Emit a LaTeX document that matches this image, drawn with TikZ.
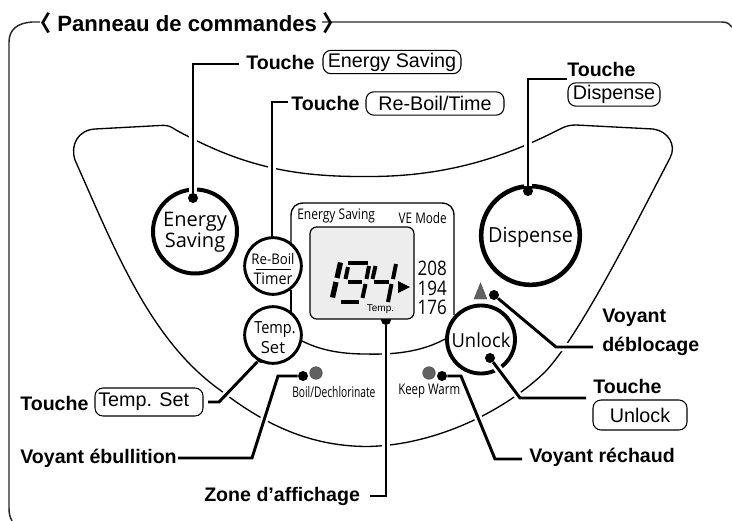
\documentclass[tikz,border=0pt]{standalone}
\usepackage{fontspec}
\setmainfont{Liberation Sans}
\newfontfamily\panelfont{Open Sans}
\newfontfamily\cjkfont{Noto Sans CJK JP}
\newcommand{\nar}[2]{\scalebox{#1}[1]{#2}}
\tikzset{
  lbl/.style={font=\fontsize{14.7pt}{17pt}\selectfont\bfseries,inner sep=0pt,anchor=west},
  keybox/.style={draw=black,line width=0.8pt,rounded corners=6pt,inner sep=0pt,font=\fontsize{14.8pt}{17pt}\selectfont},
  outline/.style={line width=1pt,line join=round},
  leader/.style={line width=2.2pt,line join=miter},
  halo/.style={line width=6pt,white},
  dot/.style={circle,fill=black,inner sep=0pt,minimum size=7.5pt},
  lamp/.style={circle,fill=black!62,draw=black!75,line width=.3pt,inner sep=0pt,minimum size=9.5pt},
  ring/.style={circle,draw=black,fill=none,inner sep=0pt},
  paneltext/.style={font=\panelfont,inner sep=0pt,align=center},
  seg/.style={line width=3.9pt},
  segthin/.style={line width=3pt}
}
\begin{document}
\begin{tikzpicture}[x=0.75pt,y=-0.75pt]
\useasboundingbox (0,0) rectangle (732,521);
% frame
\draw[line width=1.1pt,black!85] (40,22) -- (32,22) .. controls (17,23) and (9,30) .. (9,42) -- (9,508) .. controls (9,514) and (10,517) .. (12,521);
\draw[line width=1.1pt,black!85] (322,22) -- (722,22) .. controls (727,22) and (730,24) .. (732,27);
% panel outline
\draw[outline] (576,125) .. controls (570,125) and (566,126) .. (560,129)
  .. controls (500,160) and (440,177) .. (366,176.5)
  .. controls (290,177) and (240,165) .. (176,130)
  .. controls (170,126) and (168,125) .. (160,125.5) -- (95,129)
  .. controls (78,130) and (70,145) .. (75,160)
  .. controls (115,250) and (150,340) .. (220,390)
  .. controls (265,425) and (310,446) .. (366,446.5)
  .. controls (430,446) and (500,415) .. (545,372)
  .. controls (580,335) and (635,225) .. (670,158)
  .. controls (677,145) and (668,131) .. (653,129) -- (576,125);
% display outer box and inner arc
\draw[outline] (291,262) -- (291,216) .. controls (291,207) and (296,203) .. (304,203) -- (441,203) .. controls (450,203) and (454,208) .. (454,216) -- (454,315);
\draw[outline] (291,290) -- (291,312);
\draw[outline] (302,341) .. controls (320,350) and (340,354) .. (366,354) .. controls (400,355) and (425,350) .. (445,339);
% connector ends
\node[dot] (dEnergy) at (193,198) {};
\node[dot] (dReboil) at (272,244) {};
\node[dot] (dDispense) at (528,191) {};
\node[dot] (dTemp) at (261,358) {};
\node[dot] (dBoil) at (303,376) {};
\node[dot] (dZone) at (386,320) {};
\node[dot] (dUnlock) at (490,358) {};
\node[dot] (dUnlockLamp) at (494,295) {};
\node[dot] (dWarm) at (442,376) {};
\coordinate (bEnergy) at (193,64); \coordinate (eEnergy) at (239,64);
\coordinate (bReboil) at (272,102); \coordinate (eReboil) at (288,102);
\coordinate (bDispense) at (528,79); \coordinate (eDispense) at (567,79);
\coordinate (bTemp) at (219,402); \coordinate (eTemp) at (208,402);
\coordinate (bBoil) at (278,376); \coordinate (cBoil) at (252,458); \coordinate (eBoil) at (178,458);
\coordinate (bZone) at (386,496); \coordinate (eZone) at (370,496);
\coordinate (bUnlock) at (520,398); \coordinate (eUnlock) at (586,398);
\coordinate (bLamp) at (556,347); \coordinate (eLamp) at (593,347);
\coordinate (bWarm) at (461,376); \coordinate (cWarm) at (495,459); \coordinate (eWarm) at (522,459);
% rings (under halos)
\node[ring,line width=3pt,minimum size=63pt] (energy) at (195,231.5) {};
\node[ring,line width=3.4pt,minimum size=74pt] (dispense) at (530.5,235.5) {};
\node[ring,line width=2.9pt,minimum size=51pt] (unlockbtn) at (481,339.5) {};
% halos
\draw[halo] (dEnergy) -- (bEnergy);
\draw[halo] (dDispense) -- (bDispense);
\draw[halo] (dReboil) -- (bReboil);
\draw[halo] (dTemp) -- (bTemp);
\draw[halo] (bBoil) -- (cBoil);
\draw[halo] (dZone) -- (bZone);
\draw[halo] (dUnlock) -- (bUnlock);
\draw[halo] (dUnlockLamp) -- (bLamp) -- (eLamp);
\draw[halo] (bWarm) -- (cWarm);
% small rings
\node[ring,line width=2.2pt,minimum size=42.5pt,fill=white] (reboil) at (273,266) {};
\node[ring,line width=2.2pt,minimum size=42.5pt,fill=white] (tempbtn) at (273,335) {};
% LCD
\draw[line width=.9pt,fill=black!7,rounded corners=5pt] (310,227) rectangle (414,319);
\draw[seg] (340.5,262.5) -- (337,278);
\draw[seg] (336,282) -- (332.5,297.5);
\draw[segthin] (348,263) -- (368,263);
\draw[segthin] (348,267) -- (345.5,279);
\draw[segthin] (348,281.5) -- (362,281.5);
\draw[segthin] (369,266) -- (366.5,279);
\draw[segthin] (365.5,284) -- (362.5,298);
\draw[segthin] (341,301.5) -- (359,301.5);
\draw[segthin] (375.5,266) -- (372.5,279);
\draw[segthin] (374,281.5) -- (389,281.5);
\draw[segthin] (396,264) -- (393,279);
\draw[segthin] (391.5,284) -- (388,302);
\fill (398,281) -- (410,287) -- (398,293) -- cycle;
% leaders
\draw[leader] (dEnergy) -- (bEnergy) -- (eEnergy);
\draw[leader] (dReboil) -- (bReboil) -- (eReboil);
\draw[leader] (dDispense) -- (bDispense) -- (eDispense);
\draw[leader] (dTemp) -- (bTemp) -- (eTemp);
\draw[leader] (dBoil) -- (bBoil) -- (cBoil) -- (eBoil);
\draw[leader] (dZone) -- (bZone) -- (eZone);
\draw[leader] (dUnlock) -- (bUnlock) -- (eUnlock);
\draw[leader] (dUnlockLamp) -- (bLamp) -- (eLamp);
\draw[leader] (dWarm) -- (bWarm) -- (cWarm) -- (eWarm);
% lamps
\node[lamp] (lampBoil) at (316,373) {};
\node[lamp] (lampWarm) at (429,373) {};
\fill[black!62,draw=black!70,line width=.3pt] (474,299) -- (487,299) -- (480.5,283) -- cycle;
% panel texts
\node[paneltext,font=\panelfont\fontsize{15pt}{14.5pt}\selectfont] (tEnergy) at (195,232) {Energy\\Saving};
\node[paneltext,font=\panelfont\fontsize{15.6pt}{17pt}\selectfont] (tDispense) at (530.5,237) {\nar{.95}{Dispense}};
\node[paneltext,font=\panelfont\fontsize{11pt}{13pt}\selectfont] (tRe) at (273,259) {\nar{.9}{Re-Boil}};
\node[paneltext,font=\panelfont\fontsize{12pt}{13pt}\selectfont] (tTimer) at (273,279) {\nar{.9}{Timer}};
\draw[line width=.9pt] (256,269.5) -- (291,269.5);
\node[paneltext,font=\panelfont\fontsize{12.5pt}{13pt}\selectfont] (tTemp) at (275,330) {\nar{.87}{Temp.}};
\node[paneltext,font=\panelfont\fontsize{12.5pt}{13pt}\selectfont] (tSet) at (273,348) {Set};
\node[paneltext,font=\panelfont\fontsize{14.5pt}{16pt}\selectfont] (tUnlock) at (481,340) {\nar{.95}{Unlock}};
\node[paneltext,font=\panelfont\fontsize{11pt}{12pt}\selectfont,anchor=west] (tES) at (297,216) {\nar{.82}{Energy Saving}};
\node[paneltext,font=\panelfont\fontsize{11pt}{12pt}\selectfont,anchor=east] (tVE) at (447,218) {\nar{.8}{VE Mode}};
\node[paneltext,font=\fontsize{7.5pt}{9pt}\selectfont] (tT) at (380.5,309.5) {Temp.};
\node[paneltext,font=\panelfont\fontsize{15pt}{16pt}\selectfont,anchor=east] (t208) at (447,268) {\nar{.85}{208}};
\node[paneltext,font=\panelfont\fontsize{15pt}{16pt}\selectfont,anchor=east] (t194) at (447,288) {\nar{.85}{194}};
\node[paneltext,font=\panelfont\fontsize{15pt}{16pt}\selectfont,anchor=east] (t176) at (447,307) {\nar{.85}{176}};
\node[paneltext,font=\panelfont\fontsize{11pt}{12pt}\selectfont,anchor=west] (tBoil) at (292,392) {\nar{.7}{Boil/Dechlorinate}};
\node[paneltext,font=\panelfont\fontsize{11pt}{12pt}\selectfont,anchor=west] (tWarm) at (398,391) {\nar{.78}{Keep Warm}};
% title
\node[lbl,anchor=west,font=\fontsize{16.6pt}{18pt}\selectfont\bfseries] (title) at (29,23) {{\cjkfont\bfseries 〈}\hspace{4.5pt}Panneau de commandes\hspace{4.5pt}{\cjkfont\bfseries 〉}};
% labels
\node[lbl] (lEnergy) at (246,62) {Touche};
\node[keybox,minimum width=103.5pt,minimum height=17.5pt] (kEnergy) at (392,62) {Energy Saving};
\node[lbl] (lReboil) at (291,103) {Touche};
\node[keybox,minimum width=103.5pt,minimum height=17.5pt] (kReboil) at (435,103.5) {Re-Boil/Time};
\node[lbl] (lDispense) at (567,69) {Touche};
\node[keybox,minimum width=69pt,minimum height=17.5pt] (kDispense) at (614,94.5) {Dispense};
\node[lbl] (lTemp) at (20,403) {Touche};
\node[keybox,minimum width=81pt,minimum height=21pt] (kTemp) at (149,402) {\raisebox{1.5pt}{\hspace{-8pt}Temp. Set}};
\node[lbl] (lBoil) at (20,458) {Voyant ébullition};
\node[lbl] (lZone) at (204,496) {Zone d’affichage};
\node[lbl] (lLamp1) at (602,318) {Voyant};
\node[lbl] (lLamp2) at (602,346) {déblocage};
\node[lbl] (lUnlock) at (593,386) {Touche};
\node[keybox,minimum width=70.5pt,minimum height=22.5pt] (kUnlock) at (640,415) {Unlock};
\node[lbl] (lWarm) at (529,457) {Voyant réchaud};
\end{tikzpicture}
\end{document}
